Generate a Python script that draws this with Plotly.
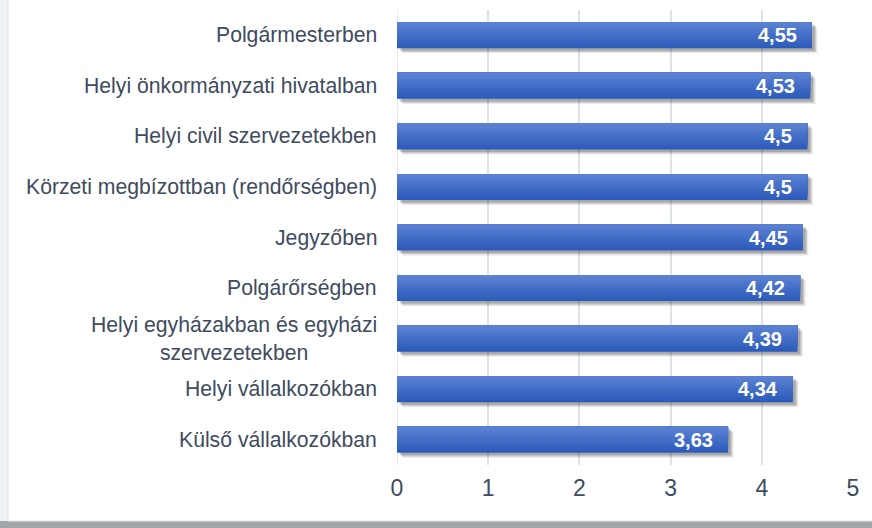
import plotly.graph_objects as go

categories = [
    "Polgármesterben",
    "Helyi önkormányzati hivatalban",
    "Helyi civil szervezetekben",
    "Körzeti megbízottban (rendőrségben)",
    "Jegyzőben",
    "Polgárőrségben",
    "Helyi egyházakban és egyházi<br>szervezetekben",
    "Helyi vállalkozókban",
    "Külső vállalkozókban",
]
values = [4.55, 4.53, 4.5, 4.5, 4.45, 4.42, 4.39, 4.34, 3.63]
value_labels = ["4,55", "4,53", "4,5", "4,5", "4,45", "4,42", "4,39", "4,34", "3,63"]
x_ticks = [0, 1, 2, 3, 4, 5]

FONT = "Liberation Sans, Arial, sans-serif"
TEXT_COLOR = "#404b5e"
BAR_W = 0.515

fig = go.Figure()

# soft shadow
for dx, dy, op in [(0.06, 0.10, 0.10), (0.045, 0.075, 0.16), (0.03, 0.05, 0.20)]:
    fig.add_trace(go.Bar(
        y=categories, x=values, base=dx, orientation="h",
        width=BAR_W, offset=-BAR_W / 2 + dy,
        marker=dict(color=f"rgba(40,40,40,{op})", line=dict(width=0)),
        hoverinfo="skip", showlegend=False,
    ))

# vertical gradient: darkest full bar, then lighter bars covering the upper part
top_rgb = (0x5b, 0x82, 0xd2)
bot_rgb = (0x2d, 0x5b, 0xbb)
n = 12
for k in range(n):
    t = k / (n - 1)
    c = tuple(round(b + (tp - b) * t) for b, tp in zip(bot_rgb, top_rgb))
    h = BAR_W * (n - k) / n
    fig.add_trace(go.Bar(
        y=categories, x=values, orientation="h",
        width=h, offset=-BAR_W / 2,
        marker=dict(color="rgb(%d,%d,%d)" % c, line=dict(width=0)),
        hoverinfo="skip", showlegend=False,
    ))

annotations = []
for cat, v, lab in zip(categories, values, value_labels):
    annotations.append(dict(
        x=v, y=cat, xref="x", yref="y", text=f"<b>{lab}</b>",
        xanchor="right", xshift=-13, showarrow=False,
        font=dict(family=FONT, size=20, color="white"),
    ))
    annotations.append(dict(
        x=0, y=cat, xref="paper", yref="y", text=cat,
        xanchor="right", xshift=-18, showarrow=False, align="center",
        font=dict(family=FONT, size=21.2, color=TEXT_COLOR),
    ))

W, H = 872, 528
L, R, T, B = 397, 19, 10, 63
pw, ph = W - L - R, H - T - B


def px_x(p):
    return (p - L) / pw


def px_y(p):
    return (H - B - p) / ph


shapes = [
    dict(type="rect", xref="paper", yref="paper", layer="below",
         x0=px_x(0), x1=px_x(W), y0=px_y(H), y1=px_y(521),
         fillcolor="#a3a7ab", line=dict(width=0)),
    dict(type="rect", xref="paper", yref="paper", layer="below",
         x0=px_x(8), x1=px_x(W + 5), y0=px_y(521), y1=px_y(-5),
         fillcolor="white", line=dict(color="#dfe3e8", width=1)),
]

fig.update_layout(
    width=W, height=H,
    margin=dict(l=L, r=R, t=T, b=B),
    paper_bgcolor="#eef2f6", plot_bgcolor="rgba(0,0,0,0)",
    barmode="overlay",
    annotations=annotations,
    shapes=shapes,
    xaxis=dict(
        range=[0, 5], tickvals=x_ticks, ticktext=[str(t) for t in x_ticks],
        showgrid=True, gridcolor="#dfe3e8", gridwidth=1.5,
        zeroline=False, showline=False,
        tickfont=dict(family=FONT, size=23, color=TEXT_COLOR),
        ticklabelstandoff=7, fixedrange=True,
    ),
    yaxis=dict(
        categoryorder="array", categoryarray=categories,
        autorange="reversed",
        showticklabels=False, showgrid=False, zeroline=False, showline=False,
    ),
)
fig.add_vline(x=0, line=dict(color="#dfe3e8", width=1.5), layer="below")

fig.write_html(
    "out.html",
    config={"displayModeBar": False},
    post_script="document.body.style.margin='0';document.body.style.padding='0';",
)
